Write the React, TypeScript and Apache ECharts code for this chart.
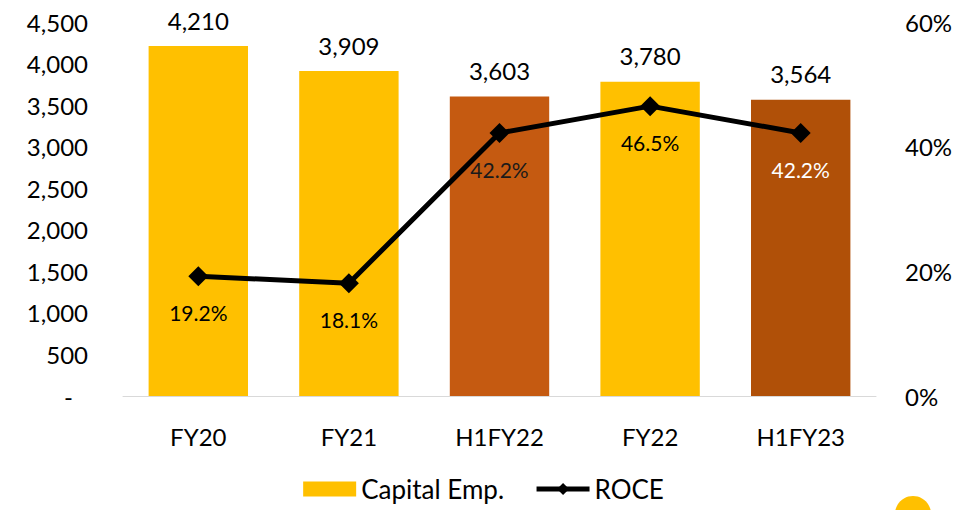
import React, { useEffect, useRef } from "react";
import * as echarts from "echarts";

const categories = ["FY20", "FY21", "H1FY22", "FY22", "H1FY23"];
const capitalEmp = [4210, 3909, 3603, 3780, 3564];
const roce = [0.192, 0.181, 0.422, 0.465, 0.422];
const barColors = ["#FFC000", "#FFC000", "#C55A11", "#FFC000", "#B05008"];
const roceLabelColors = ["#000000", "#000000", "#1a1a1a", "#000000", "#ffffff"];

const FONT = "Lato";

export default function App() {
  const ref = useRef<HTMLDivElement>(null);
  useEffect(() => {
    if (!ref.current) return;
    const chart = echarts.init(ref.current, undefined, { renderer: "svg" });
    chart.setOption({
      animation: false,
      textStyle: { fontFamily: FONT },
      grid: { left: 123, right: 91, top: 22, bottom: 114, containLabel: false },
      legend: {
        bottom: 3,
        left: "center",
        itemWidth: 53,
        itemHeight: 15,
        itemGap: 30,
        textStyle: { fontSize: 26, color: "#000", fontFamily: FONT },
        data: [
          { name: "Capital Emp.", icon: "rect", itemStyle: { color: "#FFC000" } },
          { name: "ROCE", lineStyle: { width: 5, color: "#000" } },
        ],
      },
      xAxis: {
        type: "category",
        data: categories,
        axisLine: { lineStyle: { color: "#D9D9D9", width: 1 } },
        axisTick: { show: false },
        axisLabel: { color: "#000", fontSize: 24, margin: 28, fontFamily: FONT },
      },
      yAxis: [
        {
          type: "value",
          min: 0,
          max: 4500,
          interval: 500,
          splitLine: { show: false },
          axisLine: { show: false },
          axisTick: { show: false },
          axisLabel: {
            color: "#000",
            fontSize: 24,
            margin: 35,
            fontFamily: FONT,
            formatter: (v: number) => (v === 0 ? "{d|-}" : v.toLocaleString("en-US")),
            rich: { d: { fontSize: 24, color: "#000", padding: [0, 15, 0, 0], fontFamily: FONT } },
          },
        },
        {
          type: "value",
          min: 0,
          max: 0.6,
          interval: 0.2,
          splitLine: { show: false },
          axisLine: { show: false },
          axisTick: { show: false },
          axisLabel: {
            color: "#000",
            fontSize: 24,
            margin: 29,
            fontFamily: FONT,
            formatter: (v: number) => Math.round(v * 100) + "%",
          },
        },
      ],
      series: [
        {
          name: "Capital Emp.",
          type: "bar",
          barCategoryGap: "34%",
          data: capitalEmp.map((v, i) => ({ value: v, itemStyle: { color: barColors[i] } })),
          itemStyle: { color: "#FFC000" },
          label: {
            show: true,
            position: "top",
            distance: 14,
            fontSize: 24,
            color: "#000",
            fontFamily: FONT,
            formatter: (p: any) => Number(p.value).toLocaleString("en-US"),
          },
        },
        {
          name: "ROCE",
          type: "line",
          yAxisIndex: 1,
          data: roce.map((v, i) => ({
            value: v,
            label: { color: roceLabelColors[i] },
          })),
          symbol: "diamond",
          symbolSize: 20,
          lineStyle: { color: "#000", width: 5 },
          itemStyle: { color: "#000" },
          label: {
            show: true,
            position: "bottom",
            distance: 16,
            fontSize: 21,
            fontFamily: FONT,
            formatter: (p: any) => (p.value * 100).toFixed(1) + "%",
          },
        },
      ],
      graphic: [
        {
          type: "circle",
          shape: { cx: 913, cy: 514, r: 18 },
          style: { fill: "#FFC000" },
        },
      ],
    });
    return () => chart.dispose();
  }, []);
  return (
    <div
      ref={ref}
      style={{ position: "absolute", left: 0, top: 0, width: 967, height: 510 }}
    />
  );
}
